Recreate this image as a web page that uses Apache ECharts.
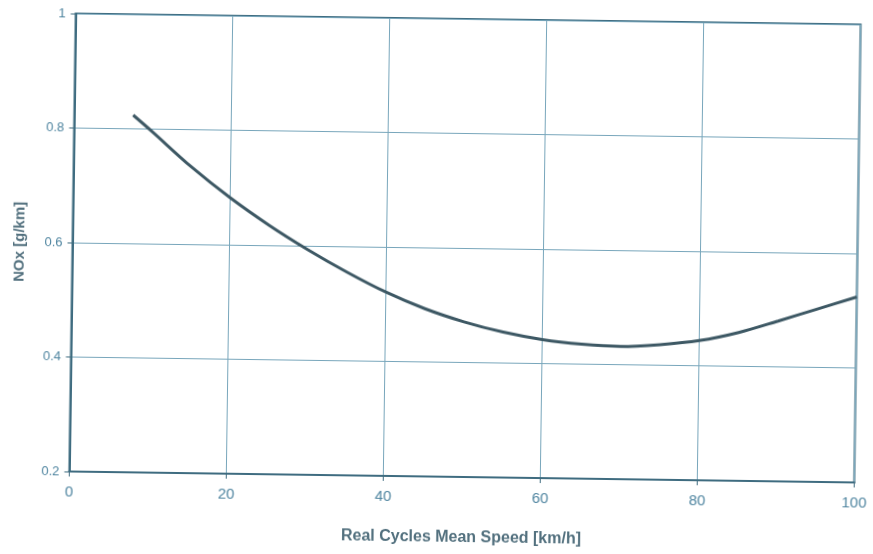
<!DOCTYPE html>
<html>
<head>
<meta charset="utf-8">
<script src="https://cdn.jsdelivr.net/npm/echarts@6/dist/echarts.min.js"></script>
<style>
  html, body { margin: 0; padding: 0; background: #ffffff; }
  #chart {
    width: 873px; height: 554px;
    transform-origin: 465px 248px;
    transform: rotate(0.8deg);
  }
</style>
</head>
<body>
<div id="chart"></div>
<script>
// Mean speed of the real driving cycles [km/h]
const speed = [7.5, 10, 15, 20, 25, 30, 35, 40, 45, 50, 55, 60, 65, 70, 75, 80, 85, 90, 95, 100];
// NOx emission factor [g/km]
const nox = [0.824, 0.795, 0.735, 0.682, 0.635, 0.593, 0.555, 0.521, 0.493, 0.471, 0.454, 0.442, 0.435, 0.432, 0.436, 0.444, 0.459, 0.480, 0.502, 0.524];

const xTitle = 'Real Cycles Mean Speed [km/h]';
const yTitle = 'NOx [g/km]';

const frameColor = '#3f6c80';
const gridColor = '#78a6bb';
const labelColor = '#4f85a0';
const titleColor = '#52707e';

const chart = echarts.init(document.getElementById('chart'), null, { renderer: 'canvas' });

chart.setOption({
  animation: false,
  backgroundColor: '#ffffff',
  grid: { left: 72.5, right: 15.5, top: 19, bottom: 77, show: true, borderColor: frameColor, borderWidth: 2 },
  xAxis: {
    type: 'value',
    min: 0, max: 100, interval: 20,
    name: xTitle,
    nameLocation: 'middle',
    nameGap: 53,
    nameTextStyle: { fontFamily: 'Liberation Sans', fontSize: 16, fontWeight: 'bold', color: titleColor },
    axisLine: { show: true, lineStyle: { color: frameColor, width: 2 } },
    axisTick: { show: true, length: 5, lineStyle: { color: frameColor, width: 1 } },
    axisLabel: { fontFamily: 'Liberation Sans', fontSize: 15, color: labelColor, margin: 13 },
    splitLine: { show: true, lineStyle: { color: gridColor, width: 1 } }
  },
  yAxis: {
    type: 'value',
    min: 0.2, max: 1, interval: 0.2,
    name: yTitle,
    nameLocation: 'middle',
    nameGap: 45,
    nameTextStyle: { fontFamily: 'Liberation Sans', fontSize: 15, fontWeight: 'bold', color: titleColor },
    axisLine: { show: true, lineStyle: { color: frameColor, width: 2 } },
    axisTick: { show: true, length: 5, lineStyle: { color: frameColor, width: 1 } },
    axisLabel: { fontFamily: 'Liberation Sans', fontSize: 13, color: labelColor, margin: 10 },
    splitLine: { show: true, lineStyle: { color: gridColor, width: 1 } }
  },
  series: [{
    type: 'line',
    data: speed.map((s, i) => [s, nox[i]]),
    smooth: 0.3,
    showSymbol: false,
    lineStyle: { color: '#3d5864', width: 3 }
  }]
});
</script>
</body>
</html>
